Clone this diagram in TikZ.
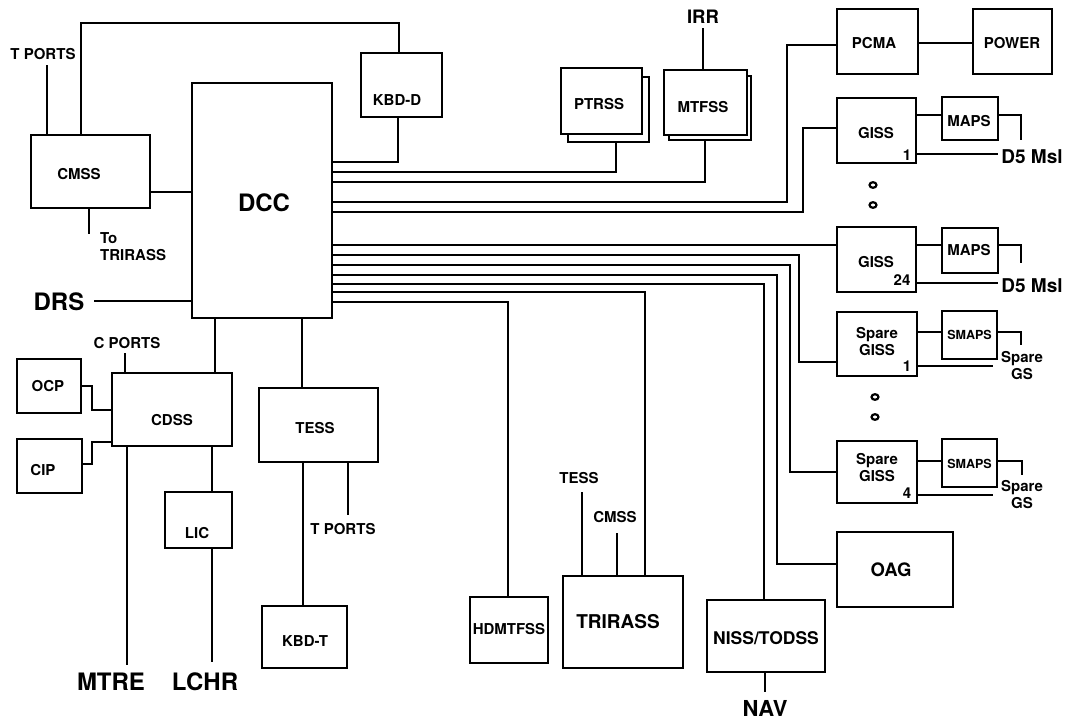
\documentclass[tikz,border=0pt]{standalone}
\usepackage{fontspec}
\setmainfont{TeX Gyre Heros}
\newcommand\mybox[5]{\node[box, minimum width=#4pt, minimum height=#5pt] (#1) at (#2,#3) {};}
\tikzset{
  box/.style={draw, line width=2.2pt, inner sep=0pt, fill=white},
  wire/.style={line width=2.2pt},
  ring/.style={line width=2.2pt},
  t12/.style={font=\bfseries\fontsize{12.5}{14}\selectfont, inner sep=0pt, align=center},
  t14/.style={font=\bfseries\fontsize{15}{17}\selectfont, inner sep=0pt, align=center},
  t17/.style={font=\bfseries\fontsize{17.5}{19}\selectfont, inner sep=0pt},
  t18/.style={font=\bfseries\fontsize{18.5}{20}\selectfont, inner sep=0pt},
  t19/.style={font=\bfseries\fontsize{19}{21}\selectfont, inner sep=0pt},
  t22/.style={font=\bfseries\fontsize{22}{24}\selectfont, inner sep=0pt},
  t24/.style={font=\bfseries\fontsize{24}{26}\selectfont, inner sep=0pt},
}
\begin{document}
\begin{tikzpicture}[x=1pt,y=-1pt]
\useasboundingbox[fill=white] (0,0) rectangle (1066,721);

% ---------- boxes ----------
\mybox{dcc}{262}{200.5}{140}{235}
\mybox{cmss}{90.5}{171.5}{119}{73}
\mybox{kbdd}{401.5}{85}{81}{64}
\mybox{ptrssb}{608.5}{109.5}{81}{65}
\mybox{ptrss}{601.5}{101}{81}{66}
\mybox{mtfssb}{710}{108}{82}{64}
\mybox{mtfss}{705.5}{102.5}{83}{65}
\mybox{pcma}{877.5}{41.5}{81}{65}
\mybox{power}{1012.5}{41.5}{79}{65}
\mybox{giss1}{876.5}{130.5}{79}{65}
\mybox{maps1}{970}{118.5}{56}{43}
\mybox{giss24}{876.5}{259.5}{79}{65}
\mybox{maps24}{970}{250.5}{56}{45}
\mybox{sg1}{877}{344}{80}{64}
\mybox{smaps1}{969.5}{335}{55}{48}
\mybox{sg4}{877}{472}{80}{62}
\mybox{smaps4}{969.5}{463}{55}{48}
\mybox{oag}{895}{569.5}{116}{75}
\mybox{niss}{766}{636}{118}{72}
\mybox{trirass}{623}{622}{120}{92}
\mybox{hdmtfss}{509}{630}{78}{66}
\mybox{ocp}{49}{386}{64}{54}
\mybox{cip}{49.5}{466}{65}{54}
\mybox{cdss}{172}{409.5}{120}{73}
\mybox{lic}{198.5}{520}{67}{56}
\mybox{tess}{318.5}{425}{119}{74}
\mybox{kbdt}{304.5}{637}{85}{62}

% ---------- box labels ----------
\node[t24] (dcc-t) at (264,203) {DCC};
\node[t14] (cmss-t) at (79,174) {CMSS};
\node[t14] (kbdd-t) at (397,100) {KBD-D};
\node[t14] (ptrss-t) at (599,104) {PTRSS};
\node[t14] (mtfss-t) at (703,107) {MTFSS};
\node[t14] (pcma-t) at (874,43) {PCMA};
\node[t14] (power-t) at (1012,43) {POWER};
\node[t14] (giss1-t) at (876,133) {GISS};
\node[t14] (giss1-n) at (907,155) {1};
\node[t14] (maps1-t) at (969,121) {MAPS};
\node[t14] (giss24-t) at (876,262) {GISS};
\node[t14] (giss24-n) at (902,280) {24};
\node[t14] (maps24-t) at (969,250) {MAPS};
\node[t14] (sg1-t) at (877,342) {Spare\\GISS};
\node[t14] (sg1-n) at (907,366) {1};
\node[t12] (smaps1-t) at (969.5,334.5) {SMAPS};
\node[t14] (sg4-t) at (877,468) {Spare\\GISS};
\node[t14] (sg4-n) at (907,493) {4};
\node[t12] (smaps4-t) at (969.5,464) {SMAPS};
\node[t18] (oag-t) at (891,570) {OAG};
\node[t17] (niss-t) at (766,638) {NISS/TODSS};
\node[t19] (trirass-t) at (618,622) {TRIRASS};
\node[t14] (hdmtfss-t) at (509,629) {HDMTFSS};
\node[t14] (ocp-t) at (48,386) {OCP};
\node[t14] (cip-t) at (43,470) {CIP};
\node[t14] (cdss-t) at (172,420) {CDSS};
\node[t14] (lic-t) at (197,533) {LIC};
\node[t14] (tess-t) at (315,428) {TESS};
\node[t14] (kbdt-t) at (305,641) {KBD-T};

% ---------- free labels ----------
\node[t14] (tports1) at (43,54) {T PORTS};
\node[t14, align=left, anchor=west] (totri) at (100,247) {To\\TRIRASS};
\node[t24] (drs) at (59,302) {DRS};
\node[t18] (irr) at (703,17) {IRR};
\node[t19] (d5a) at (1032,157) {D5 Msl};
\node[t19] (d5b) at (1032,286) {D5 Msl};
\node[t14] (gs1) at (1022,366) {Spare\\GS};
\node[t14] (gs4) at (1022,495) {Spare\\GS};
\node[t14] (cports) at (127,343) {C PORTS};
\node[t24] (mtre) at (111,682) {MTRE};
\node[t24] (lchr) at (205,682) {LCHR};
\node[t14] (tports2) at (343,529) {T PORTS};
\node[t14] (tess2) at (579,478) {TESS};
\node[t14] (cmss2) at (615,517) {CMSS};
\node[t22] (nav) at (765,708) {NAV};

% ---------- connectors ----------
\draw[wire] (cmss.north -| 47,0) -- (47,65);
\draw[wire] (cmss.north -| 81,0) |- (399,23) -- (kbdd.north -| 399,0);
\draw[wire] (kbdd.south -| 398,0) |- (dcc.east |- 0,162);
\draw[wire] (cmss.south -| 89,0) -- (89,234);
\draw[wire] (cmss.east |- 0,192) -- (dcc.west |- 0,192);
\draw[wire] (94,301) -- (dcc.west |- 0,301);
\draw[wire] (dcc.east |- 0,172) -| (ptrssb.south -| 616,0);
\draw[wire] (dcc.east |- 0,182) -| (mtfssb.south -| 705,0);
\draw[wire] (mtfss.north -| 703,0) -- (703,28);
\draw[wire] (dcc.east |- 0,202) -| (787,45) -- (pcma.west |- 0,45);
\draw[wire] (pcma.east |- 0,43) -- (power.west |- 0,43);
\draw[wire] (dcc.east |- 0,212) -| (803,128) -- (giss1.west |- 0,128);
\draw[wire] (giss1.east |- 0,115) -- (maps1.west |- 0,115);
\draw[wire] (maps1.east |- 0,115) -| (1021,140);
\draw[wire] (giss1.east |- 0,154) -- (998,154);
\draw[wire] (dcc.east |- 0,245) -- (giss24.west |- 0,245);
\draw[wire] (giss24.east |- 0,245) -- (maps24.west |- 0,245);
\draw[wire] (maps24.east |- 0,245) -| (1021,263);
\draw[wire] (giss24.east |- 0,283) -- (998,283);
\draw[wire] (dcc.east |- 0,255) -| (799,362) -- (sg1.west |- 0,362);
\draw[wire] (sg1.east |- 0,332) -- (smaps1.west |- 0,332);
\draw[wire] (smaps1.east |- 0,332) -| (1021,345);
\draw[wire] (sg1.east |- 0,366) -- (993,366);
\draw[wire] (dcc.east |- 0,265) -| (790,472) -- (sg4.west |- 0,472);
\draw[wire] (sg4.east |- 0,461) -- (smaps4.west |- 0,461);
\draw[wire] (smaps4.east |- 0,461) -| (1022,475);
\draw[wire] (sg4.east |- 0,495) -- (993,495);
\draw[wire] (dcc.east |- 0,275) -| (777,564) -- (oag.west |- 0,564);
\draw[wire] (dcc.east |- 0,284) -| (niss.north -| 764,0);
\draw[wire] (niss.south -| 765,0) -- (765,692);
\draw[wire] (dcc.east |- 0,292) -| (trirass.north -| 645,0);
\draw[wire] (trirass.north -| 582,0) -- (582,492);
\draw[wire] (trirass.north -| 617,0) -- (617,533);
\draw[wire] (dcc.east |- 0,302) -| (hdmtfss.north -| 508,0);
\draw[wire] (dcc.south -| 215,0) -- (cdss.north -| 215,0);
\draw[wire] (dcc.south -| 302,0) -- (tess.north -| 302,0);
\draw[wire] (cdss.north -| 125,0) -- (125,353);
\draw[wire] (ocp.east |- 0,386) -| (92,410) -- (cdss.west |- 0,410);
\draw[wire] (cip.east |- 0,464) -| (92,442) -- (cdss.west |- 0,442);
\draw[wire] (cdss.south -| 127,0) -- (127,665);
\draw[wire] (cdss.south -| 212,0) -- (lic.north -| 212,0);
\draw[wire] (lic.south -| 212,0) -- (212,662);
\draw[wire] (tess.south -| 303,0) -- (kbdt.north -| 303,0);
\draw[wire] (tess.south -| 348,0) -- (348,515);

% ---------- continuation rings ----------
\draw[ring] (873,185) ellipse [x radius=3.5pt, y radius=2.8pt];
\draw[ring] (873,205) ellipse [x radius=3.5pt, y radius=2.8pt];
\draw[ring] (875,397) ellipse [x radius=3.5pt, y radius=2.8pt];
\draw[ring] (875,417) ellipse [x radius=3.5pt, y radius=2.8pt];
\end{tikzpicture}
\end{document}
